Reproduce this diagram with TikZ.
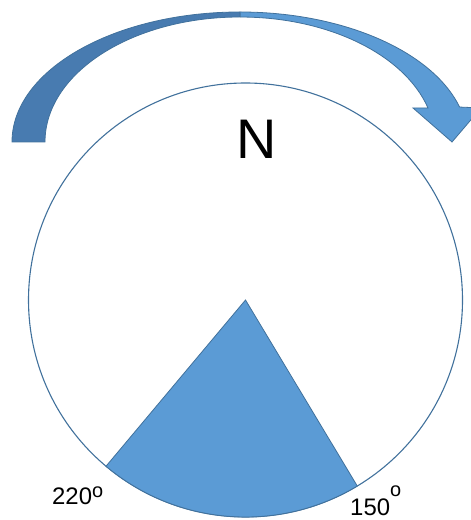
\documentclass[tikz,border=0pt]{standalone}
\usepackage{fontspec}
\setmainfont{Liberation Sans}
\definecolor{dmLine}{RGB}{65,113,156}
\definecolor{dmBlue}{RGB}{91,155,213}
\definecolor{dmBlueDark}{RGB}{72,123,176}
\newcommand{\dmSup}[1]{\raisebox{#1}{\fontsize{20}{20}\selectfont o}}
\begin{document}
\begin{tikzpicture}[x=1bp,y=1bp]
\tikzset{
    dmDial/.style={draw=dmLine,line width=1.1bp},
    dmSector/.style={draw=dmLine,line width=0.8bp,fill=dmBlue},
    dmArrowBack/.style={draw=dmLine,line width=0.8bp,fill=dmBlueDark},
    dmArrowFront/.style={draw=dmLine,line width=0.8bp,fill=dmBlue},
    dmDeg/.style={inner sep=0pt,anchor=base west,font=\fontsize{24}{28}\selectfont},
}
\useasboundingbox (0,0) rectangle (471,520);

\draw[dmDial] (245.5,220) circle (217);
\draw[dmSector] (245.5,220) -- ++(230:217) arc[start angle=230,end angle=301,radius=217] -- cycle;

\draw[dmArrowBack] (12,378) arc[start angle=180,end angle=90,x radius=228,y radius=130]
    -- (240,503) arc[start angle=90,end angle=180,x radius=195,y radius=125] -- cycle;
\draw[dmArrowFront] (240,508) arc[start angle=90,end angle=15.6,x radius=228,y radius=130]
    -- (481,412) -- (452,378) -- (413,412) -- (428,412)
    arc[start angle=15.8,end angle=90,x radius=195,y radius=125] -- cycle;

\node[font=\fontsize{56}{60}\selectfont,inner sep=0pt] (north) at (257,381) {N};
\node[dmDeg] (deg220) at (52,15) {220\dmSup{7bp}};
\node[dmDeg] (deg150) at (350,4) {150\dmSup{19bp}};
\end{tikzpicture}
\end{document}
